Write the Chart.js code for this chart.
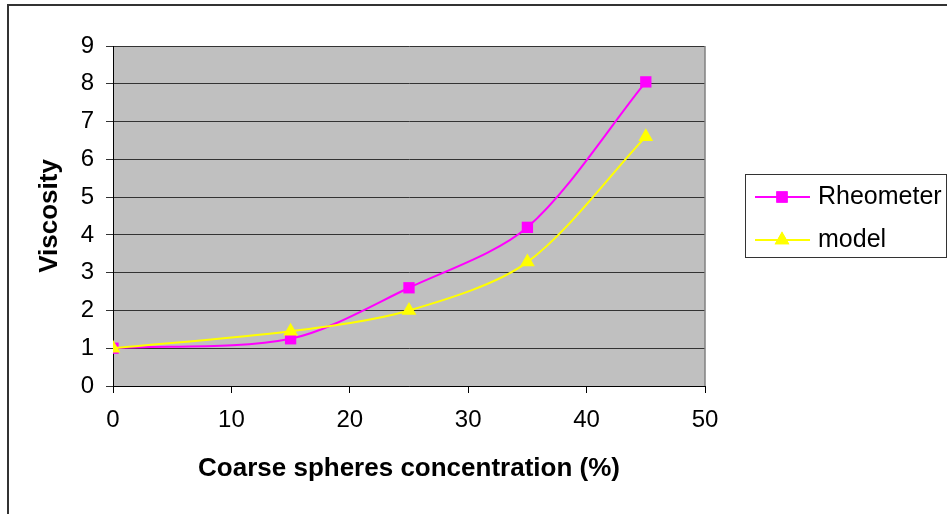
<!DOCTYPE html>
<html>
<head>
<meta charset="utf-8">
<script src="https://cdn.jsdelivr.net/npm/chart.js@4/dist/chart.umd.min.js"></script>
<style>
  body { margin: 0; background: #fff; }
  #wrap { width: 947px; height: 514px; position: relative; }
</style>
</head>
<body>
<div id="wrap"><canvas id="grafico"></canvas></div>
<script>
// Datos
const concentracion = [0, 15, 25, 35, 45];
const rheometer = [1.0, 1.25, 2.6, 4.2, 8.05];
const model = [1.0, 1.45, 2.0, 3.28, 6.6];
const xTicks = [0, 10, 20, 30, 40, 50];
const yTicks = [0, 1, 2, 3, 4, 5, 6, 7, 8, 9];

const fuente = "'Liberation Sans', Arial, sans-serif";

const puntos = (ys) => concentracion.map((x, i) => ({ x: x, y: ys[i] }));

// Fondo gris, borde del area y marco exterior
const fondoPlugin = {
    id: 'fondo',
    beforeDatasetsDraw(chart) {
        const { ctx, chartArea: a } = chart;
        ctx.save();
        ctx.strokeStyle = '#808080';
        ctx.lineWidth = 1.5;
        ctx.beginPath();
        ctx.moveTo(a.right, a.top);
        ctx.lineTo(a.right, a.bottom);
        ctx.stroke();
        ctx.restore();
    },
    beforeDraw(chart) {
        const { ctx, chartArea: a } = chart;
        ctx.save();
        ctx.fillStyle = '#c0c0c0';
        ctx.fillRect(a.left, a.top, a.right - a.left, a.bottom - a.top);
        ctx.strokeStyle = '#333';
        ctx.lineWidth = 2;
        ctx.strokeRect(8, 5, 1000, 1000);
        ctx.restore();
    }
};

// Leyenda estilo Excel con linea y marcador
const leyendaPlugin = {
    id: 'leyenda',
    afterDraw(chart) {
        const ctx = chart.ctx;
        ctx.save();
        ctx.strokeStyle = '#333';
        ctx.lineWidth = 1;
        ctx.strokeRect(745.5, 174.5, 201, 83);
        const filas = [197, 240];
        chart.data.datasets.forEach((ds, i) => {
            const y = filas[i];
            ctx.strokeStyle = ds.borderColor;
            ctx.lineWidth = 2;
            ctx.beginPath();
            ctx.moveTo(755, y);
            ctx.lineTo(810, y);
            ctx.stroke();
            ctx.fillStyle = ds.backgroundColor;
            Chart.helpers.drawPoint(ctx, { pointStyle: ds.pointStyle, radius: ds.pointRadius, rotation: 0, borderWidth: 0 }, 782, y);
            ctx.fill();
            ctx.fillStyle = '#000';
            ctx.font = '25px ' + fuente;
            ctx.textBaseline = 'middle';
            ctx.fillText(ds.label, 818, y);
        });
        ctx.restore();
    }
};

new Chart(document.getElementById('grafico'), {
    type: 'line',
    data: {
        datasets: [
            {
                label: 'Rheometer',
                data: puntos(rheometer),
                borderColor: '#ff00ff',
                backgroundColor: '#ff00ff',
                borderWidth: 2,
                pointStyle: 'rect',
                pointRadius: 8,
                pointBorderWidth: 0,
                tension: 0.3,
                order: 1
            },
            {
                label: 'model',
                data: puntos(model),
                borderColor: '#ffff00',
                backgroundColor: '#ffff00',
                borderWidth: 2,
                pointStyle: 'triangle',
                pointRadius: 8.5,
                pointBorderWidth: 0,
                tension: 0.3,
                order: 0
            }
        ]
    },
    options: {
        responsive: true,
        maintainAspectRatio: false,
        animation: false,
        layout: { padding: { top: 46, right: 242, left: 0, bottom: 0 } },
        plugins: {
            legend: { display: false },
            tooltip: { enabled: false }
        },
        scales: {
            x: {
                type: 'linear',
                min: 0,
                max: 50,
                afterFit(s) { s.height = 128; },
                afterBuildTicks(s) { s.ticks = xTicks.map(v => ({ value: v })); },
                grid: { drawOnChartArea: false, drawTicks: true, tickLength: 7, color: '#000' },
                border: { color: '#000', width: 1 },
                ticks: { color: '#000', padding: 13, maxRotation: 0, font: { family: fuente, size: 24 } },
                title: {
                    display: true,
                    text: 'Coarse spheres concentration (%)',
                    color: '#000',
                    font: { family: fuente, size: 26, weight: 'bold' },
                    padding: { top: 0, bottom: 30 }
                }
            },
            y: {
                min: 0,
                max: 9,
                afterFit(s) { s.width = 113; },
                afterBuildTicks(s) { s.ticks = yTicks.map(v => ({ value: v })); },
                grid: { color: '#333', tickLength: 7 },
                border: { color: '#000', width: 1 },
                ticks: { color: '#000', padding: 12, font: { family: fuente, size: 24 } },
                title: {
                    display: true,
                    text: 'Viscosity',
                    color: '#000',
                    font: { family: fuente, size: 26, weight: 'bold' },
                    padding: { top: 34, bottom: 0 }
                }
            }
        }
    },
    plugins: [fondoPlugin, leyendaPlugin]
});
</script>
</body>
</html>
